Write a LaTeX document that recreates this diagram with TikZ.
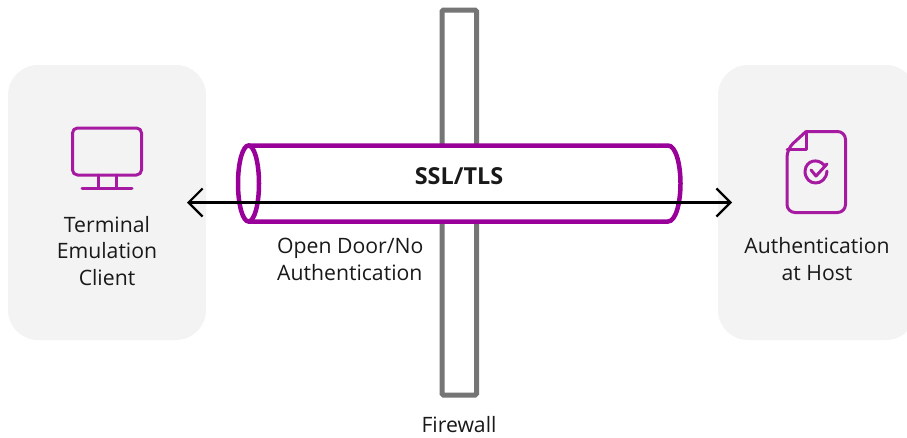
\documentclass[tikz,border=0pt]{standalone}
\usepackage{fontspec}
\setmainfont{Open Sans}
\usetikzlibrary{arrows.meta}
\definecolor{tunnelpurple}{HTML}{990099}
\definecolor{iconpurple}{HTML}{A51AA0}
\definecolor{wallgray}{HTML}{757575}
\definecolor{panelgray}{HTML}{F3F3F3}
\tikzset{
  panel/.style={fill=panelgray, rounded corners=30pt},
  icon/.style={draw=iconpurple, line width=3pt, line cap=round, line join=round},
  label/.style={align=center, inner sep=0pt, text=black!90,
    font=\fontsize{21.2}{26.5}\selectfont},
  tunnel/.style={draw=tunnelpurple, line width=4.5pt, fill=white},
}
\begin{document}
\begin{tikzpicture}[x=1pt, y=-1pt]
    \useasboundingbox (0,0) rectangle (907,437);
    % panels
    \fill[panel] (8,65) rectangle (206,340);
    \fill[panel] (718,65) rectangle (916,340);
    % firewall
    \draw[draw=wallgray, line width=5pt, rounded corners=1.5pt] (442,10) rectangle (476.5,395);
    % tunnel
    \draw[tunnel] (248.5,145.5) -- (668,145.5)
          .. controls (676,145.5) and (680.5,165) .. (680.5,183.5)
          .. controls (680.5,202) and (676,221.5) .. (668,221.5)
          -- (248.5,221.5);
    \draw[tunnel] (248.5,183.5) circle[x radius=10.5, y radius=38];
    \node[label, font=\fontsize{23.4}{24}\selectfont\bfseries] (ssl) at (459,176) {SSL/TLS};
    % connection
    \coordinate (clientEnd) at (187,202.5);
    \coordinate (hostEnd) at (732,202.5);
    \draw[line width=2.2pt, {Straight Barb[length=14pt,width=28pt]}-{Straight Barb[length=14pt,width=28pt]}]
          (clientEnd) -- (hostEnd);
    % monitor
    \begin{scope}[shift={(107,0)}]
    \draw[icon, rounded corners=5pt] (-34.5,128) rectangle (34.5,175);
    \draw[icon] (-9,175) -- (-9,188) (9,175) -- (9,188) (-25,188.5) -- (25,188.5);
    \end{scope}
    % document
    \begin{scope}[shift={(816,0)}]
    \draw[icon, rounded corners=8pt] (-10,131.5) -- (29.5,131.5) -- (29.5,212.5) -- (-29,212.5) -- (-29,149) [sharp corners] -- (-10,131.5);
    \draw[icon] (-29,149) -- (-10,149) -- (-10,131.5);
    \draw[icon] (8,165) .. controls (2,158) and (-10,160) .. (-11,171)
          .. controls (-11,187) and (10,187) .. (11,171);
    \draw[icon] (-5,170) -- (0,176) -- (11,164);
    \end{scope}
    % labels
    \node[label] (client) at (107,251) {Terminal\\Emulation\\Client};
    \node[label] (host) at (817,259) {Authentication\\at Host};
    \node[label, align=left, anchor=west] (door) at (277,259.5) {Open Door/No\\Authentication};
    \node[label] (firewall) at (459,425) {Firewall};
\end{tikzpicture}
\end{document}
